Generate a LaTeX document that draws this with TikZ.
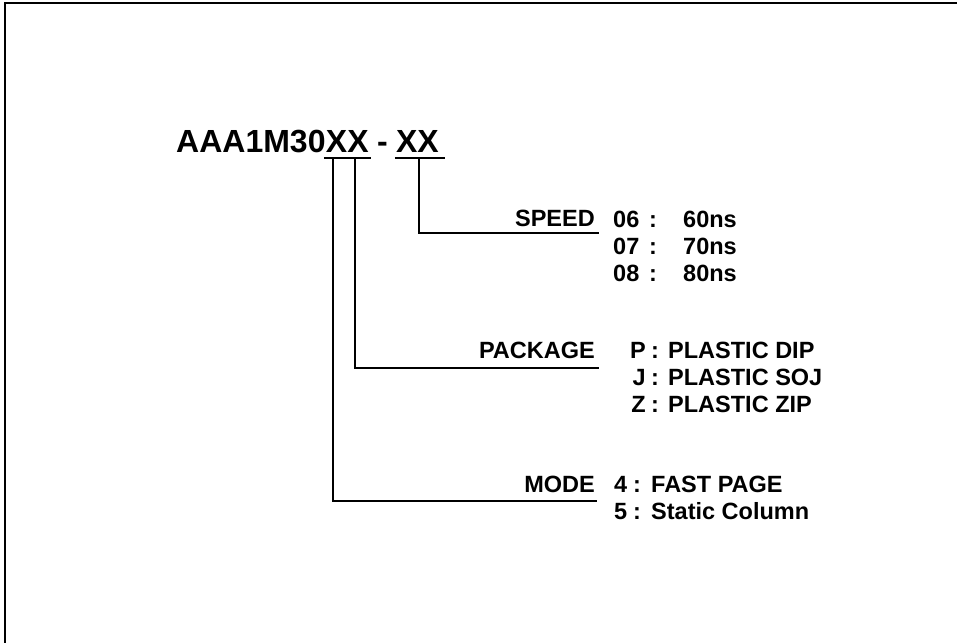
\documentclass[tikz,border=0pt]{standalone}
\usepackage{fontspec}
\setmainfont{Liberation Sans}
\begin{document}
\begin{tikzpicture}[x=1pt,y=-1pt,
  lbl/.style={font=\bfseries\fontsize{23.5}{23.5}\selectfont, inner sep=0pt},
  ttl/.style={font=\bfseries\fontsize{32}{32}\selectfont, inner sep=0pt, anchor=base west},
  conn/.style={line width=2pt},
  frame/.style={line width=2.5pt}]
\useasboundingbox (0,0) rectangle (957,642);
\draw[frame] (5,700) -- (5,3) -- (1000,3);
% title
\node[ttl] (t1) at (176,152) {AAA1M30};
\node[ttl] (t2) at (t1.base east) {XX};
\node[ttl] (t3) at (t2.base east) {\kern0.25em-\kern0.25em};
\node[ttl] (t4) at (t3.base east) {XX};
\draw[conn] ([xshift=-2pt,yshift=-6pt]t2.base west) -- ([xshift=2pt,yshift=-6pt]t2.base east);
\draw[conn] ([xshift=-1pt,yshift=-6pt]t4.base west) -- ([xshift=6pt,yshift=-6pt]t4.base east);
% labels
\node[lbl, anchor=base east] (speed) at (595,226) {SPEED};
\node[lbl, anchor=base east] (pack) at (595,358) {PACKAGE};
\node[lbl, anchor=base east] (mode) at (595,492) {MODE};
\coordinate (s0) at (419,158);
\coordinate (p0) at (355,158);
\coordinate (m0) at (333,158);
\coordinate (s1) at (599,233);
\coordinate (p1) at (599,368);
\coordinate (m1) at (597,501);
\draw[conn] (s0) |- (s1);
\draw[conn] (p0) |- (p1);
\draw[conn] (m0) |- (m1);
% speed values
\node[lbl, anchor=base west] (a1) at (613,227) {06};
\node[lbl, anchor=base west] (a2) at (613,254) {07};
\node[lbl, anchor=base west] (a3) at (613,281) {08};
\node[lbl, anchor=base west] (ac1) at (649,227) {:};
\node[lbl, anchor=base west] (ac2) at (649,254) {:};
\node[lbl, anchor=base west] (ac3) at (649,281) {:};
\node[lbl, anchor=base west] (av1) at (683,227) {60ns};
\node[lbl, anchor=base west] (av2) at (683,254) {70ns};
\node[lbl, anchor=base west] (av3) at (683,281) {80ns};
% package values
\node[lbl, anchor=base east] (b1) at (646,358) {P};
\node[lbl, anchor=base east] (b2) at (646,385) {J};
\node[lbl, anchor=base east] (b3) at (646,412) {Z};
\node[lbl, anchor=base west] (bc1) at (651,358) {:};
\node[lbl, anchor=base west] (bc2) at (651,385) {:};
\node[lbl, anchor=base west] (bc3) at (651,412) {:};
\node[lbl, anchor=base west] (bv1) at (668,358) {PLASTIC DIP};
\node[lbl, anchor=base west] (bv2) at (668,385) {PLASTIC SOJ};
\node[lbl, anchor=base west] (bv3) at (668,412) {PLASTIC ZIP};
% mode values
\node[lbl, anchor=base west] (c1) at (614,492) {4};
\node[lbl, anchor=base west] (c2) at (614,519) {5};
\node[lbl, anchor=base west] (cc1) at (633,492) {:};
\node[lbl, anchor=base west] (cc2) at (633,519) {:};
\node[lbl, anchor=base west] (cv1) at (651,492) {FAST PAGE};
\node[lbl, anchor=base west] (cv2) at (651,519) {Static Column};
\end{tikzpicture}
\end{document}
